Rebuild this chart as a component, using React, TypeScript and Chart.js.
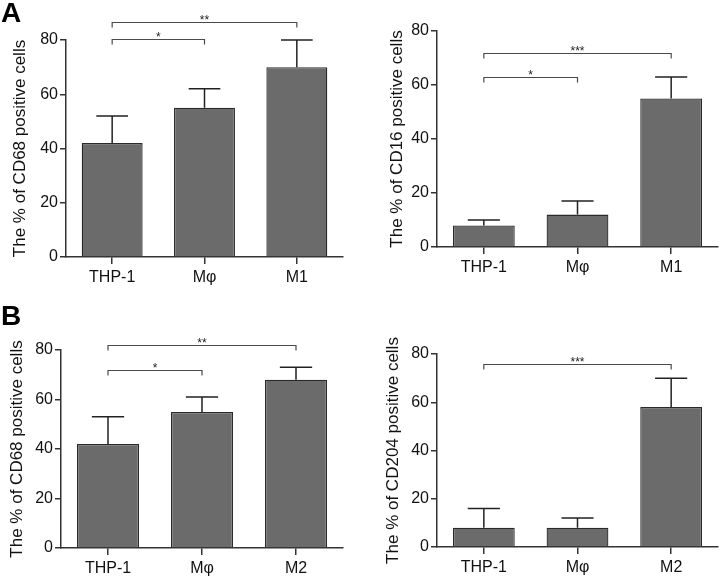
import React, { useEffect, useRef } from 'react';
import { Chart, registerables } from 'chart.js';

Chart.register(...registerables);

// ---------------- data ----------------
const categoriesA = ['THP-1', 'Mφ', 'M1'];
const categoriesB = ['THP-1', 'Mφ', 'M2'];

const cd68A = [42, 55, 70];
const cd68AErr = [10, 7, 10];

const cd16A = [8, 12, 55];
const cd16AErr = [2, 5, 8];

const cd68B = [42, 55, 68];
const cd68BErr = [11, 6, 5];

const cd204B = [8, 8, 58];
const cd204BErr = [8, 4, 12];

const yTickValues = [0, 20, 40, 60, 80];

const sigCd68A = [
  { from: 0, to: 1, level: 80.5, label: '*' },
  { from: 0, to: 2, level: 86.5, label: '**' },
];
const sigCd16A = [
  { from: 0, to: 1, level: 63, label: '*' },
  { from: 0, to: 2, level: 72, label: '***' },
];
const sigCd68B = [
  { from: 0, to: 1, level: 72, label: '*' },
  { from: 0, to: 2, level: 82, label: '**' },
];
const sigCd204B = [{ from: 0, to: 2, level: 76, label: '***' }];

// ---------------- layout / style ----------------
const FONT = "'Liberation Sans', Arial, Helvetica, sans-serif";
const BAR_FILL = '#6b6b6b';
const BAR_EDGE = '#2a2a2a';
const AXIS = '#333333';
const TEXT = '#111111';

type Sig = { from: number; to: number; level: number; label: string };

interface PanelDef {
  left: number;
  top: number;
  width: number;
  height: number;
  area: { left: number; right: number; top: number; bottom: number };
  titlePad: number;
  tickSize: number;
  letter?: { text: string; baseline: number };
  labels: string[];
  values: number[];
  errors: number[];
  sigs: Sig[];
  yTitle: string;
}

const panels: PanelDef[] = [
  {
    left: 0, top: 0, width: 360, height: 290,
    area: { left: 66, right: 343, top: 40, bottom: 257 },
    titlePad: 10, tickSize: 16,
    letter: { text: 'A', baseline: 22 },
    labels: categoriesA, values: cd68A, errors: cd68AErr, sigs: sigCd68A,
    yTitle: 'The % of CD68 positive cells',
  },
  {
    left: 360, top: 0, width: 360, height: 290,
    area: { left: 77, right: 358, top: 31, bottom: 247 },
    titlePad: 27, tickSize: 16,
    labels: categoriesA, values: cd16A, errors: cd16AErr, sigs: sigCd16A,
    yTitle: 'The % of CD16 positive cells',
  },
  {
    left: 0, top: 290, width: 360, height: 286,
    area: { left: 61, right: 343, top: 60, bottom: 258 },
    titlePad: 7, tickSize: 16,
    letter: { text: 'B', baseline: 35 },
    labels: categoriesB, values: cd68B, errors: cd68BErr, sigs: sigCd68B,
    yTitle: 'The % of CD68 positive cells',
  },
  {
    left: 360, top: 290, width: 360, height: 286,
    area: { left: 77, right: 358, top: 64, bottom: 257 },
    titlePad: 23, tickSize: 16,
    labels: categoriesB, values: cd204B, errors: cd204BErr, sigs: sigCd204B,
    yTitle: 'The % of CD204 positive cells',
  },
];

function makeAnnotPlugin(p: PanelDef) {
  return {
    id: 'annot',
    afterDatasetsDraw(chart: any) {
      const ctx = chart.ctx as CanvasRenderingContext2D;
      const xs = chart.scales.x;
      const ys = chart.scales.y;
      const meta = chart.getDatasetMeta(0);
      const data = chart.data.datasets[0].data as number[];
      ctx.save();
      // error bars (upper only)
      ctx.strokeStyle = '#222';
      ctx.lineWidth = 1.5;
      meta.data.forEach((bar: any, i: number) => {
        const v = data[i];
        const yTop = ys.getPixelForValue(v + p.errors[i]);
        const yBase = ys.getPixelForValue(v);
        const half = bar.width * 0.26;
        ctx.beginPath();
        ctx.moveTo(bar.x, yBase);
        ctx.lineTo(bar.x, yTop);
        ctx.moveTo(bar.x - half, yTop);
        ctx.lineTo(bar.x + half, yTop);
        ctx.stroke();
      });
      // significance brackets
      ctx.strokeStyle = '#4a4a4a';
      ctx.lineWidth = 1.2;
      ctx.fillStyle = '#222';
      ctx.font = `12px ${FONT}`;
      ctx.textAlign = 'center';
      ctx.textBaseline = 'alphabetic';
      p.sigs.forEach((s) => {
        const x1 = xs.getPixelForValue(s.from);
        const x2 = xs.getPixelForValue(s.to);
        const yy = Math.round(ys.getPixelForValue(s.level)) + 0.5;
        ctx.beginPath();
        ctx.moveTo(x1, yy + 5);
        ctx.lineTo(x1, yy);
        ctx.lineTo(x2, yy);
        ctx.lineTo(x2, yy + 5);
        ctx.stroke();
        ctx.fillText(s.label, (x1 + x2) / 2, yy + 1);
      });
      // panel letter
      if (p.letter) {
        ctx.font = `bold 28px ${FONT}`;
        ctx.fillStyle = '#000';
        ctx.textAlign = 'left';
        ctx.fillText(p.letter.text, 1, p.letter.baseline);
      }
      ctx.restore();
    },
  };
}

function Panel({ p }: { p: PanelDef }) {
  const ref = useRef<HTMLCanvasElement | null>(null);
  useEffect(() => {
    if (!ref.current) return;
    const chart = new Chart(ref.current, {
      type: 'bar',
      data: {
        labels: p.labels,
        datasets: [
          {
            data: p.values,
            backgroundColor: BAR_FILL,
            borderColor: BAR_EDGE,
            borderWidth: 1.3,
            barPercentage: 0.66,
            categoryPercentage: 1,
          },
        ],
      },
      options: {
        animation: false,
        responsive: false,
        maintainAspectRatio: false,
        layout: {
          padding: {
            left: 0,
            top: p.area.top,
            right: p.width - p.area.right,
            bottom: 0,
          },
        },
        plugins: {
          legend: { display: false },
          tooltip: { enabled: false },
        },
        scales: {
          x: {
            type: 'category',
            offset: true,
            grid: {
              display: true,
              drawOnChartArea: false,
              drawTicks: true,
              tickLength: 7,
              offset: false,
              color: AXIS,
              lineWidth: 1.5,
            },
            border: { display: true, color: AXIS, width: 1.5 },
            ticks: {
              color: TEXT,
              font: { family: FONT, size: p.tickSize },
              padding: 4,
              maxRotation: 0,
              autoSkip: false,
            },
            afterFit: (s: any) => {
              s.height = p.height - p.area.bottom;
            },
          },
          y: {
            type: 'linear',
            min: 0,
            max: 80,
            afterBuildTicks: (s: any) => {
              s.ticks = yTickValues.map((v) => ({ value: v }));
            },
            grid: {
              display: true,
              drawOnChartArea: false,
              drawTicks: true,
              tickLength: 6,
              color: AXIS,
              lineWidth: 1.5,
            },
            border: { display: true, color: AXIS, width: 1.5 },
            ticks: {
              color: TEXT,
              font: { family: FONT, size: p.tickSize },
              padding: 2,
            },
            title: {
              display: true,
              text: p.yTitle,
              color: TEXT,
              font: { family: FONT, size: 17 },
              padding: { top: p.titlePad, bottom: 0 },
            },
            afterFit: (s: any) => {
              s.width = p.area.left;
            },
          },
        },
      } as any,
      plugins: [makeAnnotPlugin(p)],
    });
    return () => chart.destroy();
  }, [p]);
  return (
    <canvas
      ref={ref}
      width={p.width}
      height={p.height}
      style={{
        position: 'absolute',
        left: p.left,
        top: p.top,
        width: p.width,
        height: p.height,
      }}
    />
  );
}

export default function App() {
  return (
    <div
      style={{
        position: 'absolute',
        left: 0,
        top: 0,
        width: 720,
        height: 576,
        background: '#ffffff',
        overflow: 'hidden',
      }}
    >
      {panels.map((p, i) => (
        <Panel key={i} p={p} />
      ))}
    </div>
  );
}
